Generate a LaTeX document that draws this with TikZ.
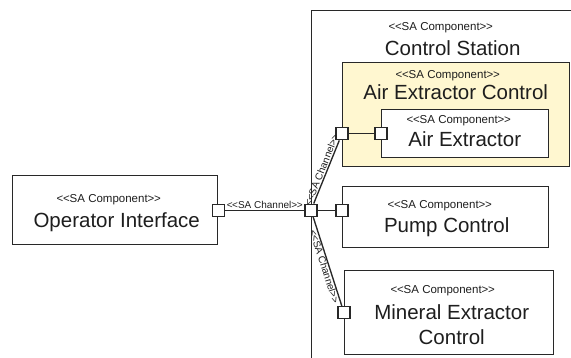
\documentclass[tikz,border=0pt]{standalone}
\usepackage{fontspec}
\setmainfont{Liberation Sans}
\usetikzlibrary{calc}
\definecolor{linecolor}{RGB}{40,40,40}
\definecolor{textcolor}{RGB}{30,30,30}
\definecolor{hilitecolor}{RGB}{255,247,208}
\newcommand{\sastereo}[1]{<\kern-0.4pt<#1>\kern-0.4pt>}

\begin{document}
\begin{tikzpicture}[
  x=1pt,y=-1pt,
  comp/.style={draw=linecolor,line width=1.45pt,fill=white,inner sep=0pt,anchor=north west},
  port/.style={draw=linecolor,line width=1.35pt,fill=white,minimum size=12pt,inner sep=0pt},
  chan/.style={draw=linecolor,line width=1.35pt},
  stereo/.style={font=\fontsize{11.5}{13}\selectfont,text=textcolor,inner sep=0pt,anchor=base},
  compname/.style={font=\fontsize{20.5}{25}\selectfont,text=textcolor,inner sep=0pt,anchor=base,align=center},
  chanlabel/.style={font=\fontsize{10}{12}\selectfont,text=textcolor,inner sep=1pt},
]
\useasboundingbox (0,0) rectangle (571,358);
\clip (0,0) rectangle (571,358);

% --- OPERATOR INTERFACE ---
\node[comp,minimum width=205pt,minimum height=69pt] (oi) at (12,175) {};
\node[stereo] (oistereo) at ($(oi.north)+(-6.5,28)$) {\sastereo{SA Component}};
\node[compname] (oiname) at ($(oi.north)+(1.5,53)$) {Operator Interface};

% --- CONTROL STATION ---
\node[comp,minimum width=280pt,minimum height=370pt] (station) at (311,10) {};
\node[stereo] (stationstereo) at ($(station.north)+(-11,21)$) {\sastereo{SA Component}};
\node[compname] (stationname) at ($(station.north)+(1,46)$) {Control Station};

% --- AIR EXTRACTOR CONTROL ---
\node[comp,fill=hilitecolor,minimum width=227pt,minimum height=104pt] (aec) at (342,62) {};
\node[stereo] (aecstereo) at ($(aec.north)+(-8.5,17)$) {\sastereo{SA Component}};
\node[compname] (aecname) at ($(aec.north)+(-0.5,38)$) {Air Extractor Control};

\node[comp,minimum width=167pt,minimum height=48pt] (ae) at (381,109) {};
\node[stereo] (aestereo) at ($(ae.north)+(-6.5,15)$) {\sastereo{SA Component}};
\node[compname] (aename) at ($(ae.north)+(-0.5,38)$) {Air Extractor};

% --- PUMP CONTROL ---
\node[comp,minimum width=206pt,minimum height=61pt] (pump) at (342,186) {};
\node[stereo] (pumpstereo) at ($(pump.north)+(-6,23)$) {\sastereo{SA Component}};
\node[compname] (pumpname) at ($(pump.north)+(1,47)$) {Pump Control};

% --- MINERAL EXTRACTOR CONTROL ---
\node[comp,minimum width=209pt,minimum height=84pt] (mec) at (344,270) {};
\node[stereo] (mecstereo) at ($(mec.north)+(-6.5,24)$) {\sastereo{SA Component}};
\node[compname,anchor=north] (mecname) at ($(mec.north)+(2.5,34)$) {Mineral Extractor\\Control};

% --- PORTS ---
\node[port] (oiport) at (oi.east) {};
\node[port] (hub) at (station.west |- oi.east) {};
\node[port] (pumpport) at (pump.west |- hub) {};
\node[port] (aeport) at (ae.west) {};
\node[port] (aecport) at (aec.west |- aeport) {};
\node[port] (mecport) at (mec.west) {};

% --- CHANNELS ---
\draw[chan] (oiport) -- node[chanlabel,above,pos=0.5] (oilabel) {\sastereo{SA Channel}} (hub);
\draw[chan] (hub) -- (pumpport);
\draw[chan] (hub) -- node[chanlabel,sloped,above,pos=0.5] (aeclabel) {\sastereo{SA Channel}} (aecport);
\draw[chan] (aecport) -- (aeport);
\draw[chan] (hub) -- node[chanlabel,sloped,below,pos=0.54,inner sep=0pt] (meclabel) {\sastereo{SA Channel}} (mecport);

\end{tikzpicture}
\end{document}
